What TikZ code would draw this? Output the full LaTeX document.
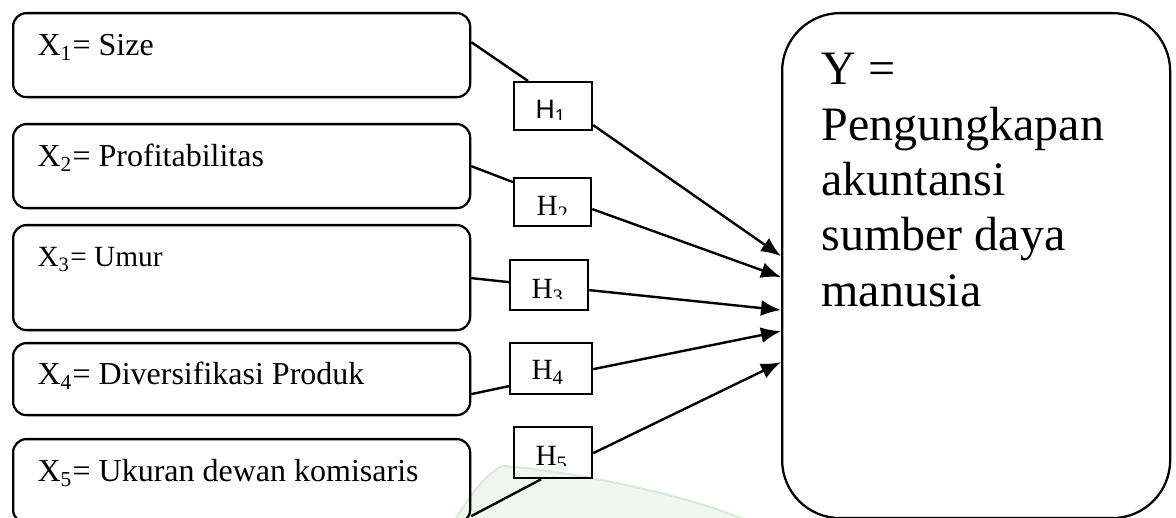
\documentclass[tikz,border=0pt]{standalone}
\usepackage{fontspec}
\setmainfont{Liberation Serif}
\newfontfamily\arialf{Liberation Sans}
\usetikzlibrary{arrows.meta,calc}
\definecolor{wmfill}{RGB}{240,247,240}
\definecolor{wmedge}{RGB}{218,234,218}
\begin{document}
\begin{tikzpicture}[x=0.375pt,y=-0.375pt,
  xbox/.style={draw, line width=0.85pt, rounded corners=5pt, inner sep=0pt, anchor=north west, minimum width=171.375pt},
  hbox/.style={draw, line width=0.85pt, inner sep=0pt, anchor=north west},
  ybox/.style={draw, line width=0.85pt, rounded corners=21.75pt, inner sep=0pt, anchor=north west, minimum width=145.5pt, minimum height=189.375pt},
  xtext/.style={anchor=base west, inner sep=0pt, font=\fontsize{12}{14}\selectfont},
  htext/.style={anchor=base west, inner sep=0pt, font=\fontsize{11}{13}\selectfont},
  conn/.style={line width=0.9pt},
  arr/.style={line width=0.9pt, -{Latex[length=7.5pt,width=6pt]}}]
\useasboundingbox (0,0) rectangle (1176,518);
% faint watermark
\fill[wmfill, draw=wmedge, line width=0.8pt] (455,520) .. controls (472,492) and (488,472) .. (503,466) .. controls (560,470) and (680,492) .. (745,520) -- cycle;
% X boxes
\node[xbox, minimum height=31.5pt] (x1) at (12,12) {};
\node[xbox, minimum height=31.5pt] (x2) at (12,123) {};
\node[xbox, minimum height=39.375pt] (x3) at (12,224) {};
\node[xbox, minimum height=27pt] (x4) at (12,342) {};
\node[xbox, minimum height=31.5pt] (x5) at (12,438) {};
\node[xtext] (t1) at (37,56) {X\textsubscript{1}= Size};
\node[xtext] (t2) at (37,167) {X\textsubscript{2}= Profitabilitas};
\node[xtext, font=\fontsize{11}{13}\selectfont] (t3) at (37,267) {X\textsubscript{3}= Umur};
\node[xtext] (t4) at (37,385) {X\textsubscript{4}= Diversifikasi Produk};
\node[xtext] (t5) at (37,482) {X\textsubscript{5}= Ukuran dewan komisaris};
% H boxes
\node[hbox, minimum width=29.25pt, minimum height=18pt] (h1) at (513,81) {};
\node[hbox, minimum width=28.875pt, minimum height=18pt] (h2) at (513,177) {};
\node[hbox, minimum width=29.25pt, minimum height=18.75pt] (h3) at (509,259) {};
\node[hbox, minimum width=30.75pt, minimum height=19.125pt] (h4) at (509,342) {};
\node[hbox, minimum width=29.25pt, minimum height=19.125pt] (h5) at (513,426) {};
\begin{scope}
\clip (513,81) rectangle (591,120);
\node[htext, font=\arialf\fontsize{10}{12}\selectfont] (l1) at (535,119) {H\textsubscript{1}};
\end{scope}
\begin{scope}
\clip (513,177) rectangle (590,215);
\node[htext] (l2) at (536,216) {H\textsubscript{2}};
\end{scope}
\begin{scope}
\clip (509,259) rectangle (587,298.5);
\node[htext] (l3) at (531,299) {H\textsubscript{3}};
\end{scope}
\node[htext] (l4) at (531,380) {H\textsubscript{4}};
\begin{scope}
\clip (513,426) rectangle (591,465.5);
\node[htext] (l5) at (535,466) {H\textsubscript{5}};
\end{scope}
% Y box
\node[ybox] (y) at (781,12) {};
\node[anchor=base west, inner sep=0pt] (yt) at (821,85) {\parbox[t]{140pt}{\raggedright\fontsize{18}{20.75}\selectfont Y =\\Pengungkapan\\akuntansi\\sumber daya\\manusia}};
% connectors X -> H
\draw[conn] ($(x1.east)+(0,-13)$) -- ($(h1.north west)+(15,0)$);
\draw[conn] (x2.east) -- ($(h2.west)+(0,-20)$);
\draw[conn] ($(x3.east)+(0,0.5)$) -- ($(h3.west)+(0,-3)$);
\draw[conn] ($(x4.east)+(0,15)$) -- ($(h4.west)+(0,17.5)$);
\draw[conn] ($(x5.east)+(0,35)$) -- ($(h5.south)+(-12,0)$);
% arrows H -> Y
\draw[arr] ($(h1.east)+(0,19)$) -- ($(y.west)+(0,-9.5)$);
\draw[arr] ($(h2.east)+(0,7)$) -- ($(y.west)+(0,11.5)$);
\draw[arr] ($(h3.east)+(0,5)$) -- ($(y.west)+(0,44.5)$);
\draw[arr] ($(h4.east)+(0,0.5)$) -- ($(y.west)+(0,65.5)$);
\draw[arr] ($(h5.east)+(0,0.5)$) -- ($(y.west)+(0,96.5)$);
\end{tikzpicture}
\end{document}
